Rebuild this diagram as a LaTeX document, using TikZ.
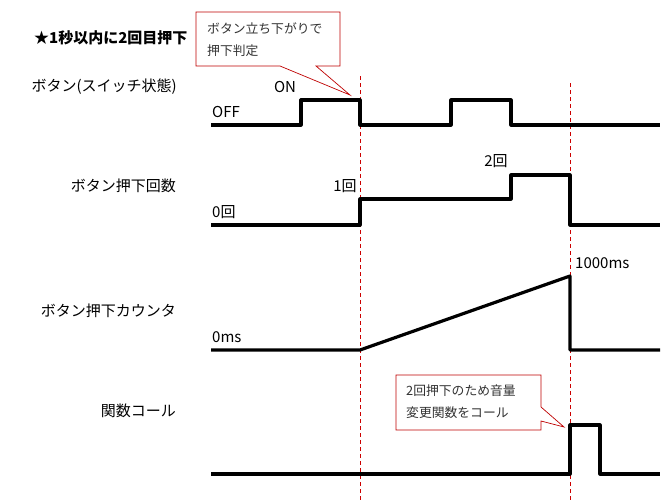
\documentclass[tikz,border=0pt]{standalone}
\usepackage{fontspec}
\setmainfont{Noto Sans CJK JP}
\begin{document}
\begin{tikzpicture}[x=1pt,y=-1pt,
  sig/.style={line width=3.2pt,line join=round},
  guide/.style={red!80!black,line width=0.7pt,dash pattern=on 4pt off 3pt},
  callout/.style={draw=red!75!black,line width=0.7pt,fill=white},
  lbl/.style={inner sep=0pt,font=\fontsize{15}{17}\selectfont},
  rowlbl/.style={lbl,anchor=east},
  val/.style={lbl,anchor=west},
  ctext/.style={inner sep=0pt,anchor=west,font=\fontsize{12.8}{15}\selectfont,text=black!80}]
\useasboundingbox[fill=white] (0,0) rectangle (661,501);

% guide lines
\coordinate (g1t) at (360,76); \coordinate (g1b) at (360,501);
\coordinate (g2t) at (570,83); \coordinate (g2b) at (570,501);
\draw[guide] (g1t) -- (g1b);
\draw[guide] (g2t) -- (g2b);

% title
\node[lbl,anchor=west,font=\fontsize{15}{17}\selectfont\bfseries] (title) at (34,38) {★1秒以内に2回目押下};

% row labels
\node[rowlbl] (r1) at (177,87) {ボタン(スイッチ状態)};
\node[rowlbl] (r2) at (176,186) {ボタン押下回数};
\node[rowlbl] (r3) at (176,311) {ボタン押下カウンタ};
\node[rowlbl] (r4) at (176,411) {関数コール};

% value labels
\node[lbl] (on) at (285,87) {ON};
\node[val] (off) at (212,112) {OFF};
\node[val] (c0) at (212,212) {0回};
\node[lbl] (c1) at (345,186) {1回};
\node[lbl] (c2) at (496,161) {2回};
\node[val] (ms0) at (212,337) {0ms};
\node[val] (ms1) at (575,263) {1000ms};

% signals
\draw[sig] (211,125) -- (301,125) -- (301,100) -- (360,100) -- (360,125) -- (451,125) -- (451,100) -- (511,100) -- (511,125) -- (660,125);
\draw[sig] (211,225) -- (360,225) -- (360,199) -- (511,199) -- (511,175) -- (570,175) -- (570,225) -- (660,225);
\draw[sig] (211,350) -- (360,350) -- (570,276) -- (570,350) -- (660,350);
\draw[sig] (211,474) -- (570,474) -- (570,425) -- (600,425) -- (600,474) -- (660,474);

% callouts
\draw[callout] (196,12) -- (340,12) -- (340,66) -- (316,66) -- (350,95) -- (280,66) -- (196,66) -- cycle;
\node[ctext] (ct1) at (207,29) {ボタン立ち下がりで};
\node[ctext] (ct2) at (207,51) {押下判定};

\draw[callout] (396,375) -- (541,375) -- (541,407) -- (564,427) -- (541,421) -- (541,430) -- (396,430) -- cycle;
\node[ctext] (cb1) at (406,391) {2回押下のため音量};
\node[ctext] (cb2) at (406,413) {変更関数をコール};
\end{tikzpicture}
\end{document}
